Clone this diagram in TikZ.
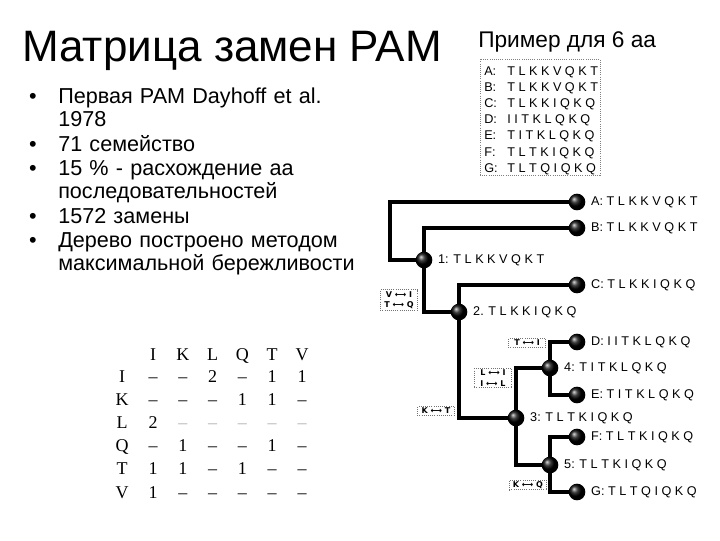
\documentclass[tikz,border=0pt]{standalone}
\usepackage{fontspec}
\setmainfont{Liberation Sans}
\newfontfamily\tabfont{Liberation Serif}
\newfontfamily\symfont{DejaVu Sans}
\usetikzlibrary{positioning, backgrounds}
\newcommand\lightdash{\textcolor{black!30}{–}}
\tikzset{
  branch/.style={draw=black, line width=2.4pt},
  ball/.style={circle, ball color=black, inner sep=0pt, minimum size=12.5pt},
  seq/.style={font=\fontsize{9.5}{10}\selectfont, inner sep=0pt},
  mut/.style={draw=black!55, densely dotted, line width=0.6pt, fill=white, align=center,
    font=\symfont\bfseries\fontsize{6}{8}\selectfont, inner sep=1pt, minimum width=28pt},
  item/.style={font=\fontsize{16.2}{17.5}\selectfont, text width=330pt, align=left, inner sep=0pt, anchor=base west},
  cell/.style={font=\tabfont\fontsize{13.5}{13.5}\selectfont, inner sep=0pt, anchor=base},
}
\begin{document}
\begin{tikzpicture}[x=0.75pt, y=-0.75pt]
  \useasboundingbox (0,0) rectangle (720,540);
  % titles
  \node[font=\fontsize{33}{36}\selectfont, inner sep=0pt, anchor=base west] (title) at (22,61) {Матрица замен PAM};
  \node[font=\fontsize{17}{20}\selectfont, inner sep=0pt, anchor=base west] (subtitle) at (478,47) {Пример для 6 аа};
  % bullet list
  \foreach \y/\t [count=\i] in {103/{Первая PAM Dayhoff et al.\\1978}, 151/{71 семейство},
      175/{15 \% - расхождение аа\\последовательностей}, 223/{1572 замены},
      247/{Дерево построено методом\\максимальной бережливости}} {
    \node[item, text width=20pt, align=center, anchor=base] (b\i) at (33,\y) {•};
    \node[item] (it\i) at (58,\y) {\t};
  }
  % sequences
  \node[draw=black!50, densely dotted, line width=0.6pt, inner sep=0pt,
    minimum width=90pt, minimum height=87pt] (seqbox) at (540,117) {};
  \foreach \n/\s [count=\i from 0] in {A/T L K K V Q K T, B/T L K K V Q K T, C/T L K K I Q K Q,
      D/I I T K L Q K Q, E/T I T K L Q K Q, F/T L T K I Q K Q, G/T L T Q I Q K Q} {
    \node[seq, anchor=base west] (s\n) at (484,{75+16.2*\i}) {\n:};
    \node[seq, anchor=base west] (q\n) at (507,{75+16.2*\i}) {\s};
  }
  % substitution table
  \foreach \c [count=\k from 0] in {I,K,L,Q,T,V}
    \node[cell] (h\c) at ({153+29.8*\k},360) {\c};
  \foreach \r/\vals [count=\j from 0] in {I/{–,–,2,–,1,1}, K/{–,–,–,1,1,–},
      L/{2,\lightdash,\lightdash,\lightdash,\lightdash,\lightdash}, Q/{–,1,–,–,1,–},
      T/{1,1,–,1,–,–}, V/{1,–,–,–,–,–}} {
    \node[cell] (r\r) at (122,{382+23.2*\j}) {\r};
    \foreach \v [count=\k from 0] in \vals
      \node[cell] (c\r\k) at ({153+29.8*\k},{382+23.2*\j}) {\v};
  }
  % tree
  \foreach \n/\y/\s in {A/202/T L K K V Q K T, B/228/T L K K V Q K T, C/285/T L K K I Q K Q,
      D/342/I I T K L Q K Q, E/395/T I T K L Q K Q, F/437/T L T K I Q K Q, G/492/T L T Q I Q K Q} {
    \node[ball] (\n) at (577,\y) {};
    \node[seq, right=4pt of \n] (l\n) {\n: \s};
  }
  \node[ball] (n1) at (424,260) {};
  \node[seq, right=4pt of n1] (l1) {1: T L K K V Q K T};
  \node[ball] (n2) at (459,312) {};
  \node[seq, right=4pt of n2] (l2) {2. T L K K I Q K Q};
  \node[ball] (n3) at (516,418) {};
  \node[seq, right=4pt of n3] (l3) {3: T L T K I Q K Q};
  \node[ball] (n4) at (550,368) {};
  \node[seq, right=4pt of n4] (l4) {4: T I T K L Q K Q};
  \node[ball] (n5) at (550,465) {};
  \node[seq, right=4pt of n5] (l5) {5: T L T K I Q K Q};
  \begin{scope}[on background layer]
    \coordinate (root) at (390,260);
    \draw[branch] (A.center) -| (root) -- (n1.center);
    \draw[branch] (B.center) -| (n1.center) |- (n2.center);
    \draw[branch] (C.center) -| (n2.center) |- (n3.center);
    \draw[branch] (n4.center) -| (n3.center) |- (n5.center);
    \draw[branch] (D.center) -| (n4.center) |- (E.center);
    \draw[branch] (F.center) -| (n5.center) |- (G.center);
  \end{scope}
  % substitutions
  \node[mut] (m1) at (399,300) {V ⟷ I\\T ⟷ Q};
  \node[mut] (m2) at (527,343) {T ⟷ I};
  \node[mut] (m3) at (493,378) {L ⟷ I\\I ⟷ L};
  \node[mut] (m4) at (436,411) {K ⟷ T};
  \node[mut] (m5) at (528,485) {K ⟷ Q};
\end{tikzpicture}
\end{document}
